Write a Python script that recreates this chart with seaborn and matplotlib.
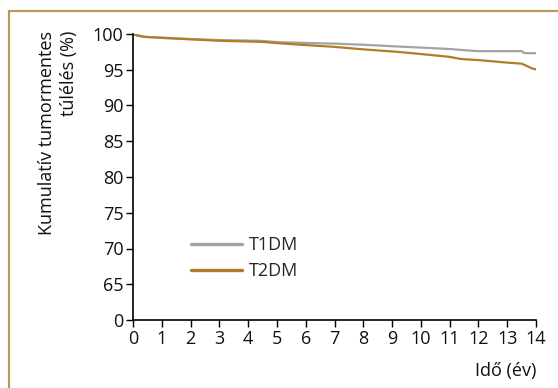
import numpy as np
import pandas as pd
import matplotlib
matplotlib.use("Agg")
import matplotlib.pyplot as plt
import seaborn as sns

# ---- data ----
t1_time = [0, 0.15, 0.4, 1, 2, 3, 4.4, 5.1, 6, 7, 8, 9.2, 10, 11, 11.8, 12, 13, 13.5, 13.6, 14]
t1_surv = [100, 99.8, 99.6, 99.5, 99.3, 99.15, 99.05, 98.85, 98.75, 98.65, 98.5, 98.25, 98.1, 97.9,
           97.65, 97.6, 97.6, 97.6, 97.33, 97.3]
t2_time = [0, 0.15, 0.4, 1, 2, 3, 4.5, 5.1, 6, 7, 8, 9.2, 10, 11, 11.4, 12, 13, 13.5, 13.7, 13.85, 14]
t2_surv = [100, 99.8, 99.6, 99.45, 99.25, 99.05, 98.9, 98.7, 98.45, 98.2, 97.85, 97.5, 97.2, 96.8,
           96.5, 96.35, 96.0, 95.85, 95.5, 95.2, 95.05]
series_names = ["T1DM", "T2DM"]
x_ticks = list(range(0, 15))
y_ticks = [0, 65, 70, 75, 80, 85, 90, 95, 100]

df = pd.concat([
    pd.DataFrame({"t": t1_time, "s": t1_surv, "g": series_names[0]}),
    pd.DataFrame({"t": t2_time, "s": t2_surv, "g": series_names[1]}),
])

sns.set_theme(style="white")
plt.rcParams["font.family"] = ["Open Sans", "DejaVu Sans"]

FS = 13

fig = plt.figure(figsize=(5.58, 3.88), dpi=100)
ax = fig.add_axes([133 / 558, 1 - 320 / 388, (536 - 133) / 558, (320 - 34) / 388])

# broken y scale: 0..65 compressed into one step, then 5-unit steps
def fwd(v):
    v = np.asarray(v, dtype=float)
    return np.where(v <= 65, v / 65.0, 1 + (v - 65) / 5.0)

def inv(p):
    p = np.asarray(p, dtype=float)
    return np.where(p <= 1, p * 65.0, 65 + (p - 1) * 5.0)

ax.set_yscale("function", functions=(fwd, inv))

palette = {"T1DM": "#a3a3a3", "T2DM": "#b07c28"}
sns.lineplot(data=df, x="t", y="s", hue="g", palette=palette, estimator=None,
             sort=False, lw=1.6, ax=ax, legend=False)

ax.set_xlim(0, 14)
ax.set_ylim(0, 100)
ax.set_xticks(x_ticks)
ax.set_yticks(y_ticks)
ax.set_yticklabels([str(v) for v in y_ticks])
ax.set_xlabel("")
ax.set_ylabel("")
for s in ["top", "right"]:
    ax.spines[s].set_visible(False)
for s in ["left", "bottom"]:
    ax.spines[s].set_color("black")
    ax.spines[s].set_linewidth(1.2)
ax.tick_params(axis="both", which="both", direction="out", length=5, width=1,
               color="black", labelsize=FS, labelcolor="#111111", left=True, bottom=True)
ax.tick_params(axis="y", pad=2)
ax.tick_params(axis="x", pad=2)
ax.minorticks_off()

from matplotlib.lines import Line2D
handles = [Line2D([], [], color=palette[n], lw=2.4) for n in series_names]
fig.legend(handles, series_names, loc="center left", bbox_to_anchor=(191 / 558, 1 - 258 / 388),
           frameon=False, fontsize=FS, handlelength=2.8, handletextpad=0.4,
           labelspacing=0.45, borderpad=0, borderaxespad=0)

fig.text(58 / 558, 1 - 31 / 388, "Kumulatív tumormentes\ntúlélés (%)", rotation=90,
         ha="center", va="top", multialignment="right", fontsize=FS, color="#111111",
         linespacing=1.3)
fig.text(536 / 558, 1 - 371 / 388, "Idő (év)", ha="right", va="center", fontsize=FS,
         color="#111111")

# partial frame (top + left)
border = "#b89a5e"
fig.add_artist(Line2D([9 / 558, 9 / 558], [0, 1 - 10.5 / 388], color=border, lw=1.6,
                      transform=fig.transFigure))
fig.add_artist(Line2D([9 / 558, 1], [1 - 10.5 / 388, 1 - 10.5 / 388], color=border, lw=1.6,
                      transform=fig.transFigure))

fig.savefig("out.png", dpi=100)
